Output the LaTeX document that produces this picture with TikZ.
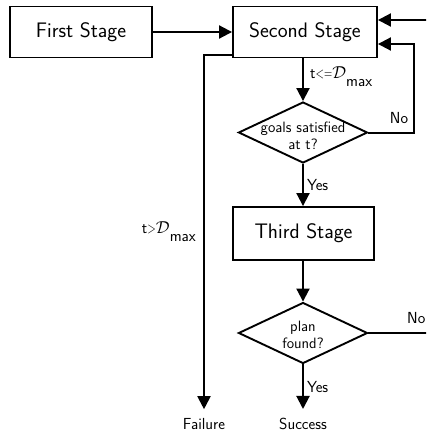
\documentclass[tikz,border=0pt]{standalone}
\usetikzlibrary{shapes.geometric,arrows.meta}
\newcommand{\dmaxlbl}{$\mathcal{D}$\raisebox{-8pt}{max}}
\newcommand{\narrowop}[1]{\scalebox{0.7}[1]{#1}}
\begin{document}
\begin{tikzpicture}[x=1pt,y=-1pt,
  every node/.style={font=\sffamily},
  stagebox/.style={draw,line width=1.9pt,minimum height=51pt,font=\fontsize{21}{24}\selectfont\sffamily},
  decision/.style={draw,diamond,line width=1.9pt,inner sep=0pt,minimum width=129pt,minimum height=61pt},
  dectext/.style={font=\fontsize{15}{17}\selectfont\sffamily,align=center,inner sep=0pt},
  lbl/.style={font=\fontsize{16}{18}\selectfont\sffamily,inner sep=1pt},
  endtext/.style={font=\fontsize{16}{18}\selectfont\sffamily,inner xsep=2pt,inner ysep=9pt},
  arr/.style={line width=2pt,-{Triangle[length=13pt,width=13pt]}},
  ln/.style={line width=2pt}]
\useasboundingbox (0,0) rectangle (426,436);
\clip (0,0) rectangle (426,436);
\node[stagebox,minimum width=142pt] (first) at (81,32) {First Stage};
\node[stagebox,minimum width=144pt] (second) at (305,32) {Second Stage};
\node[decision] (d1) at (303,132.5) {};
\node[dectext] (d1t) at (303,136) {goals satisfied\\at t?};
\node[stagebox,minimum width=141pt,minimum height=53pt] (third) at (303.5,233.5) {Third Stage};
\node[decision] (d2) at (303,333) {};
\node[dectext] (d2t) at (303,335) {plan\\found?};
\node[endtext] (success) at (303,424) {Success};
\node[endtext] (failure) at (204,424) {Failure};
\coordinate (inR) at (430,20);
\coordinate (loopc) at (414,44);
\coordinate (outR) at (430,333);
\draw[arr] (first) -- (second);
\draw[arr] (inR) -- (inR -| second.east);
\draw[arr] (d1.east) -| (loopc) -- (loopc -| second.east);
\node[lbl] (no1) at (399,118) {No};
\draw[arr] (second.south -| d1.north) -- (d1.north);
\node[lbl,anchor=west] (c1) at (309,77) {t\narrowop{<=}\dmaxlbl};
\draw[arr] (d1.south) -- node[lbl,right,xshift=2pt] (y1) {Yes} (third.north -| d1.south);
\draw[arr] (third.south -| d2.north) -- (d2.north);
\draw[ln] (d2.east) -- (outR);
\node[lbl,anchor=west] (no2) at (406,318) {No};
\draw[arr] (d2.south) -- node[lbl,right,xshift=2pt] (y2) {Yes} (success.north);
\draw[arr] ([yshift=3pt]second.south west) -| (failure.north);
\node[lbl,anchor=east] (c2) at (197,232) {t\narrowop{>}\dmaxlbl};
\end{tikzpicture}
\end{document}
